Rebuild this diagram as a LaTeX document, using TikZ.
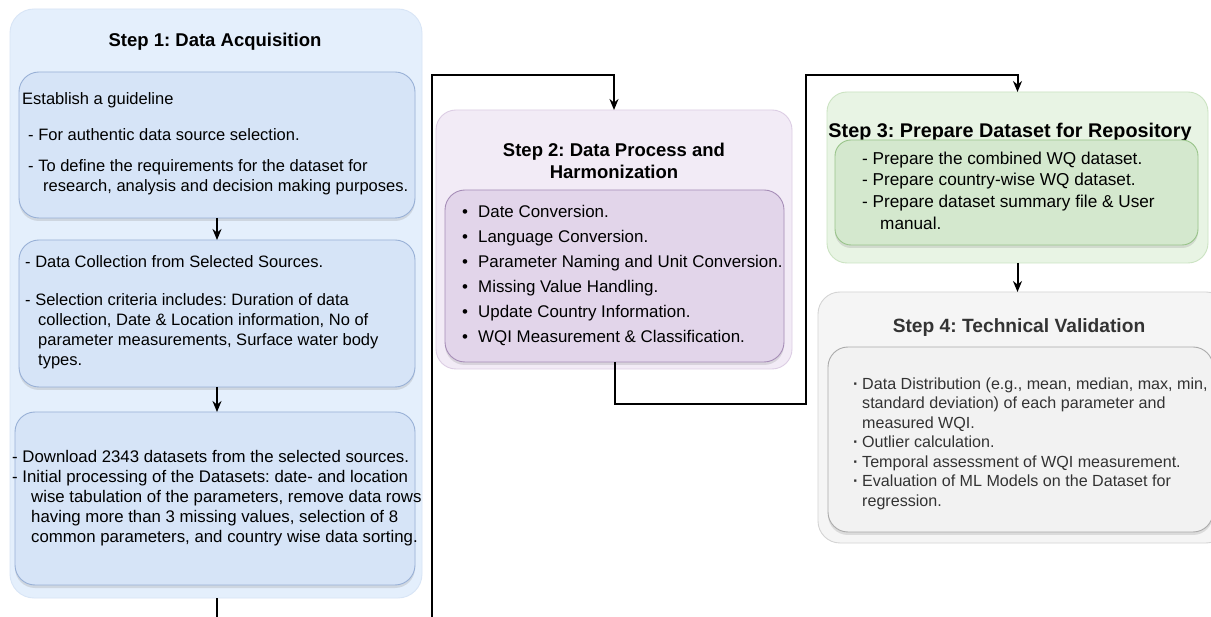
\documentclass[tikz,border=0pt]{standalone}
\usepackage{fontspec}
\setmainfont{Liberation Sans}
\usetikzlibrary{arrows.meta,shadows}
\frenchspacing
\definecolor{sonef}{HTML}{E4EFFC}
\definecolor{soned}{HTML}{D8E5F6}
\definecolor{bonef}{HTML}{D6E4F7}
\definecolor{boned}{HTML}{98B0D6}
\definecolor{stwof}{HTML}{F2EBF6}
\definecolor{stwod}{HTML}{DCCDE4}
\definecolor{btwof}{HTML}{E2D5EA}
\definecolor{btwod}{HTML}{A68DB7}
\definecolor{sthrf}{HTML}{E8F4E4}
\definecolor{sthrd}{HTML}{CBE3C2}
\definecolor{bthrf}{HTML}{D4E8CE}
\definecolor{bthrd}{HTML}{99C48A}
\definecolor{sfouf}{HTML}{F5F5F5}
\definecolor{sfoud}{HTML}{D4D4D4}
\definecolor{bfouf}{HTML}{F2F2F2}
\definecolor{bfoud}{HTML}{ABABAB}
\definecolor{darktxt}{HTML}{333333}
\tikzset{
  boxshape/.style={inner sep=0pt, outer sep=0pt, line width=0.9pt},
  outerbox/.style={boxshape, rounded corners=24pt},
  innerbox/.style={boxshape, rounded corners=20pt,
    drop shadow={shadow xshift=0pt, shadow yshift=-3pt, opacity=0.22}},
  titletxt/.style={inner sep=0pt, align=center, font=\bfseries\fontsize{18.5}{22}\selectfont},
  bodytxt/.style={inner sep=0pt, anchor=west, align=left},
  conn/.style={draw=black, line width=2pt},
  arr/.style={conn, -{Stealth[length=11pt,width=9pt]}},
}
\begin{document}
\begin{tikzpicture}[x=1pt,y=-1pt]
\useasboundingbox (0,0) rectangle (1211,617);
\fill[white] (0,0) rectangle (1211,617);

% Step 1
\node[outerbox, fill=sonef, draw=soned, minimum width=412pt, minimum height=589pt] (S1) at (216,303.5) {};
\node[titletxt] (T1) at (215,42) {Step 1: Data Acquisition};
\node[innerbox, fill=bonef, draw=boned, minimum width=396pt, minimum height=146pt] (B1) at (217,145) {};
\node[innerbox, fill=bonef, draw=boned, minimum width=396pt, minimum height=147pt] (B2) at (217,313.5) {};
\node[innerbox, fill=bonef, draw=boned, minimum width=400pt, minimum height=173pt] (B3) at (215,498.5) {};

\node[bodytxt, font=\fontsize{16.5}{20}\selectfont] (X1) at (22,144) {%
Establish a guideline\\[16pt]
\hspace*{6pt}- For authentic data source selection.\\[11pt]
\hspace*{6pt}- To define the requirements for the dataset for\\
\hspace*{21pt}research, analysis and decision making purposes.};

\node[bodytxt, font=\fontsize{16.5}{20}\selectfont] (X2) at (25,312.5) {%
- Data Collection from Selected Sources.\\[18pt]
- Selection criteria includes: Duration of data\\
\hspace*{13pt}collection, Date \& Location information, No of\\
\hspace*{13pt}parameter measurements, Surface water body\\
\hspace*{13pt}types.};

\node[bodytxt, font=\fontsize{16.8}{20}\selectfont] (X3) at (12,498) {%
- Download 2343 datasets from the selected sources.\\
- Initial processing of the Datasets: date- and location\\
\hspace*{19pt}wise tabulation of the parameters, remove data rows\\
\hspace*{19pt}having more than 3 missing values, selection of 8\\
\hspace*{19pt}common parameters, and country wise data sorting.};

\draw[arr] (B1.south) -- (B2.north);
\draw[arr] (B2.south) -- (B2.south |- B3.north);

% Step 2
\node[outerbox, rounded corners=20pt, fill=stwof, draw=stwod, minimum width=356pt, minimum height=259pt] (S2) at (614,239.5) {};
\node[titletxt] (T2) at (614,161) {Step 2: Data Process and\\Harmonization};
\node[innerbox, fill=btwof, draw=btwod, minimum width=339pt, minimum height=172pt] (S2in) at (614.5,276) {};
\node[bodytxt, font=\fontsize{16.9}{25}\selectfont] (X4) at (462,275.5) {%
\makebox[16pt][l]{•}Date Conversion.\\
\makebox[16pt][l]{•}Language Conversion.\\
\makebox[16pt][l]{•}Parameter Naming and Unit Conversion.\\
\makebox[16pt][l]{•}Missing Value Handling.\\
\makebox[16pt][l]{•}Update Country Information.\\
\makebox[16pt][l]{•}WQI Measurement \& Classification.};

% Step 3
\node[outerbox, rounded corners=20pt, fill=sthrf, draw=sthrd, minimum width=381pt, minimum height=171pt] (S3) at (1017.5,177.5) {};
\node[titletxt, font=\bfseries\fontsize{19.8}{23}\selectfont] (T3) at (1010,132) {Step 3: Prepare Dataset for Repository};
\node[innerbox, rounded corners=16pt, fill=bthrf, draw=bthrd, minimum width=363pt, minimum height=105pt] (S3in) at (1016.5,192.5) {};
\node[bodytxt, font=\fontsize{17.2}{21.7}\selectfont] (X5) at (862,190.5) {%
- Prepare the combined WQ dataset.\\
- Prepare country-wise WQ dataset.\\
- Prepare dataset summary file \& User\\
\hspace*{18pt}manual.};

% Step 4
\node[outerbox, rounded corners=22pt, fill=sfouf, draw=sfoud, minimum width=410pt, minimum height=251pt] (S4) at (1023,417.5) {};
\node[titletxt, text=darktxt, font=\bfseries\fontsize{19.2}{23}\selectfont] (T4) at (1019,328) {Step 4: Technical Validation};
\node[innerbox, fill=bfouf, draw=bfoud, minimum width=385pt, minimum height=185pt] (S4in) at (1020.5,439.5) {};
\node[bodytxt, text=darktxt, font=\fontsize{16.1}{19.5}\selectfont] (X6) at (853,443.5) {%
\makebox[9pt][l]{\textbf{·}}Data Distribution (e.g., mean, median, max, min,\\
\hspace*{9pt}standard deviation) of each parameter and\\
\hspace*{9pt}measured WQI.\\
\makebox[9pt][l]{\textbf{·}}Outlier calculation.\\
\makebox[9pt][l]{\textbf{·}}Temporal assessment of WQI measurement.\\
\makebox[9pt][l]{\textbf{·}}Evaluation of ML Models on the Dataset for\\
\hspace*{9pt}regression.};

% connectors between steps
\coordinate (o1) at (217,640);
\coordinate (o2) at (432,640);
\coordinate (k1) at (432,75);
\coordinate (k2) at (806,404);
\coordinate (k3) at (806,75);
\draw[conn] (S1.south -| o1) -- (o1);
\draw[arr] (o2) -- (k1) -| (S2.north);
\draw[arr] (S2in.south) |- (k2) -- (k3) -| (S3.north);
\draw[arr] (S3.south) -- (S3.south |- S4.north);
\end{tikzpicture}
\end{document}
